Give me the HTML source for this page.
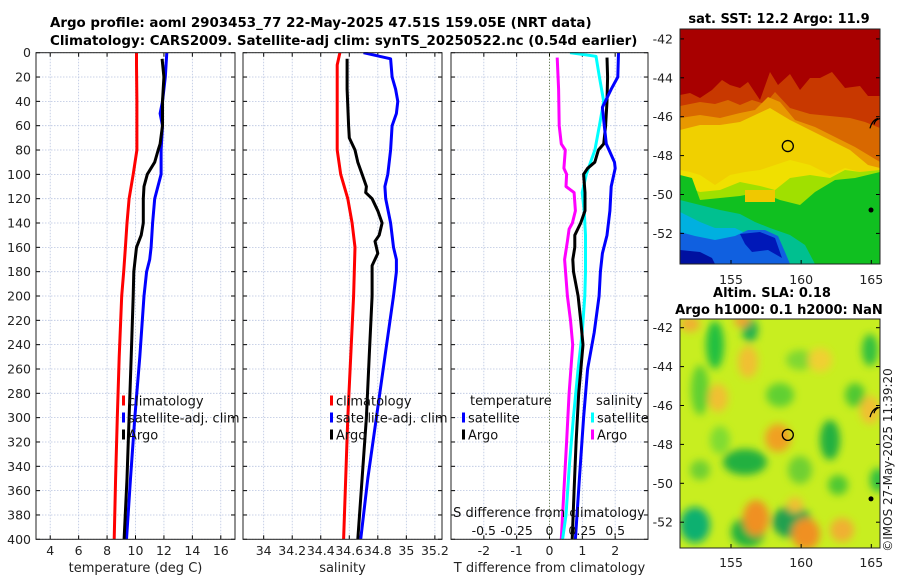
<!DOCTYPE html>
<html><head><meta charset="utf-8"><style>
body{margin:0;background:#fff;width:900px;height:580px;overflow:hidden}
svg{font-family:"DejaVu Sans","Liberation Sans",sans-serif;display:block}
</style></head><body>
<svg id="fig" width="900" height="580" viewBox="0 0 900 580" xmlns="http://www.w3.org/2000/svg">
<defs>
<filter id="blur3"><feGaussianBlur stdDeviation="4"/></filter>
<clipPath id="clipM1"><rect x="680" y="29" width="200" height="235"/></clipPath>
<clipPath id="clipM2"><rect x="680" y="319" width="200" height="229"/></clipPath>
<clipPath id="clipP1"><rect x="36" y="52" width="199" height="488"/></clipPath>
<clipPath id="clipP2"><rect x="243" y="52" width="199" height="488"/></clipPath>
<clipPath id="clipP3"><rect x="451" y="52" width="200" height="488"/></clipPath>
</defs>
<text x="50" y="27" font-size="13.4" font-weight="bold">Argo profile: aoml 2903453_77 22-May-2025 47.51S 159.05E (NRT data)</text>
<text x="50" y="45" font-size="13.4" font-weight="bold">Climatology: CARS2009. Satellite-adj clim: synTS_20250522.nc (0.54d earlier)</text>
<g id="panels"></g>
<g id="maps"></g>
<text transform="translate(892,460) rotate(-90)" text-anchor="middle" font-size="12" fill="#222">©IMOS 27-May-2025 11:39:20</text>
</svg>
<script>
// ---------- data ----------
const depthTicks = [0,20,40,60,80,100,120,140,160,180,200,220,240,260,280,300,320,340,360,380,400];
const tempTicks = [4,6,8,10,12,14,16];
const salTicks = [34,34.2,34.4,34.6,34.8,35,35.2];
const salTickLabels = ["34","34.2","34.4","34.6","34.8","35","35.2"];
const tdiffTicks = [-2,-1,0,1,2];
const sdiffTicks = [-0.5,-0.25,0,0.25,0.5];
const sdiffTickLabels = ["-0.5","-0.25","0","0.25","0.5"];

const climTDepth = [0,10,40,80,100,120,140,160,180,200,250,300,350,400];
const climT = [10.07,10.07,10.1,10.1,9.84,9.55,9.4,9.29,9.17,9.03,8.85,8.72,8.6,8.5];
const argoTDepth = [5,20,40,60,75,80,90,100,110,120,140,150,160,180,200,250,300,350,400];
const argoT = [11.87,12.0,11.9,11.9,11.73,11.6,11.35,10.83,10.6,10.55,10.55,10.4,10.07,9.88,9.84,9.7,9.55,9.4,9.2];
const satTDepth = [0,20,40,50,60,80,100,120,140,160,170,180,200,250,300,350,400];
const satT = [12.2,12.1,11.9,11.73,11.9,11.8,11.8,11.35,11.2,11.1,11.0,10.78,10.6,10.3,9.95,9.65,9.37];

const climSDepth = [0,10,80,100,120,140,160,200,250,300,350,400];
const climS = [34.534,34.515,34.515,34.54,34.59,34.62,34.64,34.63,34.61,34.59,34.575,34.56];
const argoSDepth = [5,30,60,70,80,90,100,110,115,120,130,140,150,155,165,175,190,200,250,300,350,400];
const argoS = [34.585,34.585,34.595,34.6,34.64,34.66,34.69,34.72,34.715,34.76,34.8,34.83,34.81,34.78,34.8,34.76,34.76,34.76,34.74,34.72,34.69,34.66];
const satSDepth = [0,5,20,30,40,50,60,80,100,110,120,140,160,170,180,200,250,300,350,400];
const satS = [34.70,34.89,34.9,34.925,34.94,34.93,34.9,34.89,34.87,34.85,34.855,34.89,34.91,34.93,34.93,34.91,34.85,34.79,34.73,34.68];

const dArgoSDepth = [4,30,60,75,80,95,100,110,115,130,140,145,155,170,200,220,240,280,320,360,400];
const dArgoS = [0.059,0.069,0.074,0.09,0.12,0.11,0.13,0.126,0.187,0.197,0.174,0.149,0.136,0.115,0.136,0.16,0.177,0.149,0.13,0.11,0.09];
const dSatSDepth = [0,3,20,40,60,80,100,115,130,150,180,200,230,260,300,340,380,400];
const dSatS = [0.156,0.354,0.38,0.413,0.38,0.346,0.28,0.249,0.264,0.274,0.274,0.269,0.249,0.218,0.182,0.151,0.126,0.1];
const dArgoTDepth = [4,20,40,60,75,80,90,95,100,115,130,140,150,160,170,180,200,220,240,280,320,360,400];
const dArgoT = [1.75,1.77,1.75,1.71,1.65,1.49,1.38,1.16,1.04,1.08,1.08,0.95,0.77,0.77,0.71,0.73,0.87,0.95,1.02,0.89,0.81,0.75,0.69];
const dSatTDepth = [0,20,30,45,60,75,90,95,110,130,150,165,180,200,230,260,300,350,400];
const dSatT = [2.1,2.08,1.88,1.61,1.67,1.73,1.98,2.0,1.88,1.84,1.75,1.61,1.55,1.51,1.36,1.16,1.04,0.91,0.79];

const mapLatTicks = [-42,-44,-46,-48,-50,-52];
const mapLonTicks = [155,160,165];
const floatLon = 159.05, floatLat = -47.51;

// ---------- helpers ----------
const NS='http://www.w3.org/2000/svg';
function mk(tag, attrs, parent){const e=document.createElementNS(NS,tag);for(const k in attrs)e.setAttribute(k,attrs[k]);if(parent)parent.appendChild(e);return e;}
const Y0=52.7, Y1=539.3;
function yDepth(d){return Y0+(d/400)*(Y1-Y0);}
const panels=document.getElementById('panels');

function drawPanel(name,x0,x1,xmin,xmax,ticks,labels,xlabel,showY){
  const sx=v=>x0+(v-xmin)/(xmax-xmin)*(x1-x0);
  const g=mk('g',{},panels);
  
  
  mk('rect',{x:x0,y:Y0,width:x1-x0,height:Y1-Y0,fill:'#fff'},g);
  depthTicks.forEach(d=>{
    const gl=mk('line',{x1:x0,x2:x1,y1:yDepth(d),y2:yDepth(d),stroke:'#b8c4e0','stroke-width':0.8,'stroke-dasharray':'1.5,1.5'},g);
    
    
    mk('line',{x1:x0,x2:x0+4,y1:yDepth(d),y2:yDepth(d),stroke:'#000'},g);
    mk('line',{x1:x1-4,x2:x1,y1:yDepth(d),y2:yDepth(d),stroke:'#000'},g);
    if(showY){const t=mk('text',{x:x0-5,y:yDepth(d)+4.5,'text-anchor':'end','font-size':12.5,fill:'#222'},g);t.textContent=d;
      }
  });
  ticks.forEach((v,i)=>{
    const gl=mk('line',{x1:sx(v),x2:sx(v),y1:Y0,y2:Y1,stroke:'#b8c4e0','stroke-width':0.8,'stroke-dasharray':'1.5,1.5'},g);
    
    
    mk('line',{x1:sx(v),x2:sx(v),y1:Y1-4,y2:Y1,stroke:'#000'},g);
    mk('line',{x1:sx(v),x2:sx(v),y1:Y0,y2:Y0+4,stroke:'#000'},g);
    const t=mk('text',{x:sx(v),y:555,'text-anchor':'middle','font-size':12.5,fill:'#222'},g);t.textContent=labels[i];
    
  });
  const xl=mk('text',{x:(x0+x1)/2,y:572,'text-anchor':'middle','font-size':13,fill:'#222'},g);xl.textContent=xlabel;
  
  return {g,sx,x0,x1};
}
function line(p,clip,depths,vals,color,name,scale){
  const pts=depths.map((d,i)=>p.sx(vals[i]*(scale||1)).toFixed(1)+','+yDepth(d).toFixed(1)).join(' ');
  const l=mk('polyline',{points:pts,fill:'none',stroke:color,'stroke-width':3,'stroke-linejoin':'round','clip-path':'url(#'+clip+')'},p.g);
  
  
}
function frame(p){mk('rect',{x:p.x0,y:Y0,width:p.x1-p.x0,height:Y1-Y0,fill:'none',stroke:'#222','stroke-width':1},p.g);}
function legendItem(g,bx,y,color,label,name){
  mk('rect',{x:bx,y:y-5,width:3,height:10,fill:color},g);
  const t=mk('text',{x:bx+6,y:y+5,'font-size':13,fill:'#111'},g);t.textContent=label;
  
  
}

// Panel 1
const p1=drawPanel('temperature-panel',36,235,3,17,tempTicks,tempTicks.map(String),'temperature (deg C)',true);
line(p1,'clipP1',climTDepth,climT,'#ff0000','climatology-temperature-line');
line(p1,'clipP1',satTDepth,satT,'#0000ff','satellite-temperature-line');
line(p1,'clipP1',argoTDepth,argoT,'#000000','argo-temperature-line');
frame(p1);
legendItem(p1.g,122,400.5,'#ff0000','climatology','legend-climatology');
legendItem(p1.g,122,417.5,'#0000ff','satellite-adj. clim','legend-satellite-adj-clim');
legendItem(p1.g,122,434.5,'#000000','Argo','legend-argo');

// Panel 2
const p2=drawPanel('salinity-panel',243,442,33.855,35.25,salTicks,salTickLabels,'salinity',false);
line(p2,'clipP2',climSDepth,climS,'#ff0000','climatology-salinity-line');
line(p2,'clipP2',satSDepth,satS,'#0000ff','satellite-salinity-line');
line(p2,'clipP2',argoSDepth,argoS,'#000000','argo-salinity-line');
frame(p2);
legendItem(p2.g,330,400.5,'#ff0000','climatology','legend-climatology-2');
legendItem(p2.g,330,417.5,'#0000ff','satellite-adj. clim','legend-satellite-adj-clim-2');
legendItem(p2.g,330,434.5,'#000000','Argo','legend-argo-2');

// Panel 3
const p3=drawPanel('difference-panel',451,648,-3,3,tdiffTicks,tdiffTicks.map(String),'T difference from climatology',false);
const zx=p3.sx(0);
const zl=mk('line',{x1:zx,x2:zx,y1:Y0,y2:Y1,stroke:'#556b2f','stroke-width':1,'stroke-dasharray':'1,2'},p3.g);

line(p3,'clipP3',dArgoSDepth,dArgoS,'#ff00ff','argo-salinity-diff-line',4);
line(p3,'clipP3',dSatSDepth,dSatS,'#00ffff','satellite-salinity-diff-line',4);
line(p3,'clipP3',dArgoTDepth,dArgoT,'#000000','argo-temperature-diff-line');
line(p3,'clipP3',dSatTDepth,dSatT,'#0000ff','satellite-temperature-diff-line');
frame(p3);
{const t=mk('text',{x:470,y:405,'font-size':13,fill:'#111'},p3.g);t.textContent='temperature';
 
 const s=mk('text',{x:596,y:405,'font-size':13,fill:'#111'},p3.g);s.textContent='salinity';
 }
legendItem(p3.g,462,417.5,'#0000ff','satellite','legend-temp-satellite');
legendItem(p3.g,462,434.5,'#000000','Argo','legend-temp-argo');
legendItem(p3.g,591,417.5,'#00ffff','satellite','legend-sal-satellite');
legendItem(p3.g,591,434.5,'#ff00ff','Argo','legend-sal-argo');
{const t=mk('text',{x:549,y:517,'text-anchor':'middle','font-size':13,fill:'#111'},p3.g);t.textContent='S difference from climatology';
 
 sdiffTicks.forEach((v,i)=>{const l=mk('text',{x:p3.sx(v*4),y:535,'text-anchor':'middle','font-size':12.5,fill:'#111'},p3.g);l.textContent=sdiffTickLabels[i];
  });}

// ---------- maps ----------
const maps=document.getElementById('maps');
function mapAxes(g,top,bottom,lat42y,lonLabelY){
  const ly=lat=>lat42y+(-42-lat)*19.45;
  const lx=lon=>731+(lon-155)*14.03;
  mapLatTicks.forEach(v=>{
    const t=mk('text',{x:673,y:ly(v)+4.5,'text-anchor':'end','font-size':12.5,fill:'#222'},g);t.textContent=v;
    
    mk('line',{x1:680,x2:684,y1:ly(v),y2:ly(v),stroke:'#000'},g);
    mk('line',{x1:876,x2:880,y1:ly(v),y2:ly(v),stroke:'#000'},g);
  });
  mapLonTicks.forEach(v=>{
    const t=mk('text',{x:lx(v),y:lonLabelY,'text-anchor':'middle','font-size':12.5,fill:'#222'},g);t.textContent=v;
    
    mk('line',{x1:lx(v),x2:lx(v),y1:bottom-4,y2:bottom,stroke:'#000'},g);
  });
  mk('rect',{x:680,y:top,width:200,height:bottom-top,fill:'none',stroke:'#222'},g);
  const c=mk('circle',{cx:lx(floatLon),cy:ly(floatLat),r:5.5,fill:'none',stroke:'#000','stroke-width':1.3},g);
  
  mk('path',{d:'M870,'+(ly(-46.6))+' q2,-8 8,-10 M874,'+(ly(-46.4))+' q1,-5 6,-6',fill:'none',stroke:'#000','stroke-width':1.2},g);
  mk('circle',{cx:871,cy:ly(-50.8),r:2.5,fill:'#000'},g);
}
// Map 1 SST
{
 const g=mk('g',{},maps);
 
 const t=mk('text',{x:779,y:23,'text-anchor':'middle','font-size':13,'font-weight':'bold'},g);t.textContent='sat. SST: 12.2 Argo: 11.9';
 
 const c=mk('g',{'clip-path':'url(#clipM1)'},g);
 const L=(pts,fill)=>mk('polygon',{points:pts,fill:fill},c);
 L('680,29 880,29 880,264 680,264','#a80000');
 L('680,95 690,93 700,98 712,90 722,80 730,85 740,88 748,82 760,100 770,72 778,85 790,74 800,90 810,78 820,78 832,72 845,88 860,86 868,96 880,96 880,264 680,264','#c83800');
 L('680,106 700,102 715,104 728,100 740,105 752,100 765,104 775,92 790,108 810,114 830,116 850,118 865,122 880,128 880,264 680,264','#d86800');
 L('680,118 700,115 720,118 740,113 755,110 768,97 780,102 795,120 815,127 835,137 855,147 880,162 880,264 680,264','#e89800');
 L('680,130 700,125 720,125 740,122 755,115 770,108 790,120 810,130 830,140 850,150 868,165 880,168 880,264 680,264','#f0d000');
 L('680,170 690,172 700,175 715,185 730,175 745,172 760,170 775,165 790,160 810,165 830,175 845,168 860,172 880,175 880,264 680,264','#f0e000');
 L('720,190 740,182 760,186 775,190 790,178 810,175 830,178 845,170 860,172 880,170 880,264 680,264 680,185 700,192','#a0e000');
 L('680,175 692,178 700,200 720,198 740,196 760,192 780,200 800,205 815,192 835,180 855,178 880,172 880,264 680,264','#10c020');
 L('680,200 700,205 720,210 740,214 755,222 770,228 790,235 805,245 815,264 680,264','#00c090');
 L('680,212 700,222 715,228 735,228 755,238 775,250 790,264 680,264','#00b0e0');
 L('680,232 695,236 715,240 735,236 748,230 765,230 778,236 785,252 790,264 680,264','#1060e0');
 L('740,234 760,232 775,238 782,258 768,250 752,252 745,244','#0018b8');
 L('680,250 700,252 712,258 715,264 680,264','#0010a0');
 mk('rect',{x:745,y:190,width:30,height:12,fill:'#f0c800'},c);
 mapAxes(g,29,264,38.9,284);
}
// Map 2 SLA
{
 const g=mk('g',{},maps);
 
 const t1=mk('text',{x:772,y:297,'text-anchor':'middle','font-size':13,'font-weight':'bold'},g);t1.textContent='Altim. SLA: 0.18';
 
 const t2=mk('text',{x:779,y:314,'text-anchor':'middle','font-size':13,'font-weight':'bold'},g);t2.textContent='Argo h1000: 0.1 h2000: NaN';
 
 const c=mk('g',{'clip-path':'url(#clipM2)'},g);
 mk('rect',{x:680,y:319,width:200,height:229,fill:'#c8ee20'},c);
 const b=mk('g',{filter:'url(#blur3)'},c);
 const blobs=[[715,345,9,24,'#20c040'],[750,330,8,12,'#20b050'],[700,390,9,25,'#60d030'],[720,440,10,14,'#80dc30'],[745,462,22,13,'#20b040'],[695,525,15,18,'#10b070'],[748,532,17,15,'#20b040'],[792,522,20,16,'#20a050'],[830,440,10,20,'#20b040'],[855,395,10,12,'#50c830'],[870,350,8,16,'#30c040'],[780,395,14,12,'#60d030'],[800,470,12,14,'#70d030'],[878,480,8,12,'#30c040'],[800,360,14,10,'#80d830'],[838,485,10,10,'#50c830'],[700,470,10,10,'#70d030'],
  [778,438,13,14,'#f0a020'],[718,398,10,14,'#f0c030'],[748,362,10,16,'#f0c030'],[756,518,13,18,'#f09020'],[806,534,14,16,'#f09020'],[690,324,10,8,'#f0b030'],[742,321,8,6,'#f0a030'],[842,530,12,12,'#f0b030'],[870,410,10,14,'#f0c030'],[820,360,12,12,'#f0d030'],[795,505,8,8,'#f0c030']];
 blobs.forEach(o=>{const e=mk('ellipse',{cx:o[0],cy:o[1],rx:o[2],ry:o[3],fill:o[4]},b);});
 mapAxes(g,319,548,327.7,567);
}
</script>
</body></html>
